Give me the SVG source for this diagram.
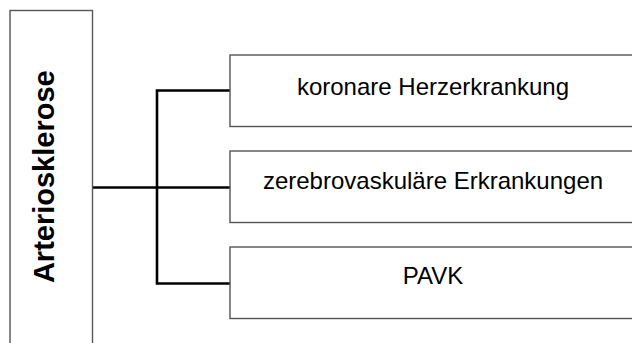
<svg xmlns="http://www.w3.org/2000/svg" width="632" height="343" viewBox="0 0 632 343">
  <style>
    .box { fill: #ffffff; stroke: #555555; stroke-width: 1.4; }
    .label { font-family: "Liberation Sans", Arial, sans-serif; font-size: 24px; fill: #000000; text-anchor: middle; }
    .title { font-family: "Liberation Sans", Arial, sans-serif; font-size: 29px; font-weight: bold; fill: #000000; text-anchor: middle; }
    .link { fill: none; stroke: #000000; stroke-width: 2.6; stroke-linejoin: miter; stroke-linecap: butt; }
  </style>
  <rect width="632" height="343" fill="#ffffff"/>

  <!-- connectors -->
  <g id="connectors">
    <line class="link" x1="92.5" y1="187.5" x2="230" y2="187.5"/>
    <polyline class="link" points="230,90.5 157,90.5 157,283.5 230,283.5"/>
  </g>

  <!-- root node -->
  <g id="node-arteriosklerose">
    <rect class="box" x="10" y="10.5" width="82.5" height="340"/>
    <text class="title" transform="translate(54,176.7) rotate(-90)">Arteriosklerose</text>
  </g>

  <!-- child nodes -->
  <g id="node-khk">
    <rect class="box" x="230" y="55" width="410" height="71.5"/>
    <text class="label" x="433" y="95">koronare Herzerkrankung</text>
  </g>
  <g id="node-zerebrovaskulaer">
    <rect class="box" x="230" y="151" width="410" height="71.5"/>
    <text class="label" x="433" y="189">zerebrovaskuläre Erkrankungen</text>
  </g>
  <g id="node-pavk">
    <rect class="box" x="230" y="247" width="410" height="71.5"/>
    <text class="label" x="433" y="283.5">PAVK</text>
  </g>
</svg>
